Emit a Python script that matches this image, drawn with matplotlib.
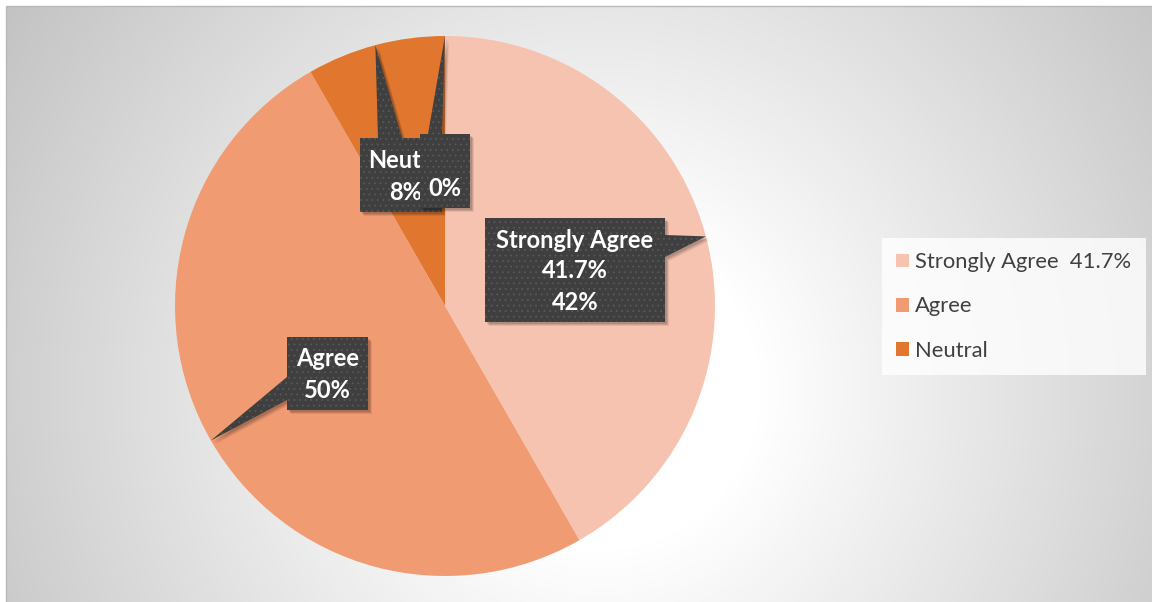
import numpy as np
import matplotlib
matplotlib.use("Agg")
import matplotlib.pyplot as plt
from matplotlib.patches import Polygon, Rectangle

# Survey responses (percent of respondents)
categories = ["Strongly Agree  41.7%", "Agree", "Neutral", "Disagree"]
values = [41.7, 50.0, 8.3, 0.0]
colors = ["#F5C3AF", "#F09B71", "#E1772F", "#A5A5A5"]
legend_count = 3

W, H = 1152, 602
plt.rcParams["font.family"] = ["Lato", "DejaVu Sans"]
plt.rcParams["hatch.color"] = "#595959"
plt.rcParams["hatch.linewidth"] = 0.6

fig = plt.figure(figsize=(W / 100, H / 100), dpi=100)
ax = fig.add_axes([0, 0, 1, 1])


def py(y):
    # top-down pixel row -> data y
    return H - y


# chart-area background: soft radial gradient
yy, xx = np.mgrid[0:H, 0:W]
d = np.hypot(xx - 600, yy - 390)
shade = np.clip(255 - 0.11 * np.clip(d - 160, 0, None), 190, 255) / 255.0
bg = np.dstack([shade, shade, shade])
bg[:6, :, :] = 1.0
bg[:, :6, :] = 1.0
ax.imshow(bg, extent=(0, W, 0, H), origin="upper", zorder=0, interpolation="bilinear")
ax.add_patch(Rectangle((6, -2), W, H - 6 + 2, fill=False, edgecolor="#b9b9b9", lw=1.0, zorder=1))

cx, cy, R = 445, py(306), 270
wedges, _ = ax.pie(values, colors=colors, startangle=90, counterclock=False,
                   center=(cx, cy), radius=R, frame=True,
                   wedgeprops=dict(linewidth=0, zorder=2))
ax.set_xlim(0, W)
ax.set_ylim(0, H)
ax.set_aspect("equal")
ax.axis("off")


def tip_of(w):
    th = np.deg2rad((w.theta1 + w.theta2) / 2.0)
    return (cx + R * np.cos(th), cy + R * np.sin(th))


def callout(box, side, base, tip, z):
    x0, x1, y0, y1 = box
    b0, b1 = base
    if side == "right":
        pts = [(x0, y0), (x1, y0), (x1, b0), None, (x1, b1), (x1, y1), (x0, y1)]
    elif side == "left":
        pts = [(x0, y0), (x1, y0), (x1, y1), (x0, y1), (x0, b1), None, (x0, b0)]
    else:  # top
        pts = [(x0, y0), (b0, y0), None, (b1, y0), (x1, y0), (x1, y1), (x0, y1)]
    pts = [tip if p is None else (p[0], py(p[1])) for p in pts]
    for k, a in ((4, 0.08), (3, 0.10), (2, 0.12)):
        sh = [(x + k, y - k) for x, y in pts]
        ax.add_patch(Polygon(sh, closed=True, facecolor="black", alpha=a, lw=0, zorder=z))
    ax.add_patch(Polygon(pts, closed=True, facecolor="#3f3f3f", edgecolor=None, lw=0,
                         hatch="...", zorder=z + 0.1))


lab = dict(color="white", fontsize=17, fontweight="bold", zorder=20, va="center")
pct = [f"{v:.0f}%" for v in values]

# Strongly Agree
callout((485, 665, 218, 322), "right", (235, 257), tip_of(wedges[0]), 10)
ax.text(575, py(240), "Strongly Agree", ha="center", **lab)
ax.text(575, py(271), "41.7%", ha="center", **lab)
ax.text(575, py(303), pct[0], ha="center", **lab)

# Agree
callout((287, 368, 337, 410), "left", (377, 400), tip_of(wedges[1]), 10)
ax.text(327.5, py(358), categories[1], ha="center", **lab)
ax.text(327.5, py(390), pct[1], ha="center", **lab)

# Neutral
callout((360, 442, 138, 212), "top", (378, 402), tip_of(wedges[2]), 10)
ax.text(368, py(160), categories[2][:4], ha="left", **dict(lab, zorder=11))
ax.text(422, py(192), pct[2], ha="right", **dict(lab, zorder=11))

# zero-valued category
callout((420, 470, 134, 208), "top", (428, 442), tip_of(wedges[3]), 12)
ax.text(445, py(189), pct[3], ha="center", **dict(lab, zorder=13))

leg = ax.legend(wedges[:legend_count], categories[:legend_count],
                loc="upper left", bbox_to_anchor=(882 / W, 1 - 238 / H),
                borderaxespad=0, frameon=True, fontsize=15.8, labelcolor="#404040",
                handlelength=0.6, handleheight=0.6, handletextpad=0.27,
                labelspacing=1.1, borderpad=0.65, fancybox=False)
leg.get_frame().set_facecolor((1, 1, 1, 0.2))
leg.get_frame().set_edgecolor("none")
leg.set_zorder(30)

fig.savefig("out.png", dpi=100)
